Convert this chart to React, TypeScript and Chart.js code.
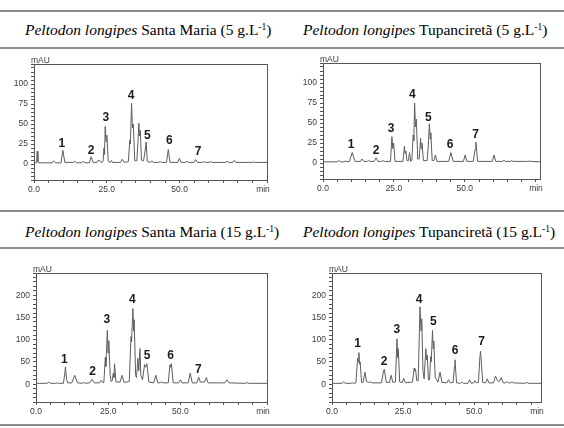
import React, { useEffect, useRef } from "react";
import { Chart, registerables } from "chart.js";

Chart.register(...registerables);

// ---- Chromatogram traces (retention time in min, absorbance in mAU) ----

// Santa Maria, 5 g/L
const smLowTimes = [
  0, 0.9, 1.1, 1.35, 1.6, 6.2, 6.7, 7.3, 9.3, 9.9, 10.6, 13.5, 14.0, 14.6, 16.4, 16.9, 17.5,
  19.0, 19.6, 20.3, 21.7, 22.3, 23.0, 23.7, 24.05, 24.2, 24.45, 24.75, 25.0, 25.5, 26.2, 26.6,
  27.0, 29.7, 30.3, 31.0, 32.4, 32.9, 33.1, 33.5, 33.8, 34.1, 34.6, 35.3, 35.7, 36.0, 36.2,
  36.5, 36.9, 37.6, 38.1, 38.5, 38.9, 40.0, 40.5, 41.0, 42.8, 43.3, 43.8, 45.5, 46.1, 46.7,
  49.4, 49.9, 50.5, 52.0, 52.5, 53.0, 54.9, 55.5, 56.1, 57.9, 58.4, 58.9, 60.1, 60.6, 61.1,
  65.8, 66.3, 66.8, 68.3, 68.8, 69.3, 74.9, 75.4, 75.9, 80,
];
const smLowValues = [
  1.5, 1.5, 16, 3, 1.5, 1.5, 4, 1.5, 1.5, 17, 2, 2, 3.5, 1.5, 1.5, 3.5, 1.5,
  1.5, 9, 2, 2, 5, 2, 3, 20, 12, 47, 28, 36, 3, 2, 4.5,
  2, 2, 6, 2, 3, 30, 25, 76, 45, 50, 4, 4, 28, 51, 35,
  42, 5, 4, 15, 27.5, 3, 2, 4, 2, 2, 3, 2, 2, 18, 2,
  2, 7, 2, 2, 3.5, 2, 2, 5.5, 2, 2, 3, 2, 2, 3, 2,
  2, 3.5, 2, 2, 4.5, 2, 2, 2.5, 2, 2,
];

// Tupanciretã, 5 g/L
const tpLowTimes = [
  0, 4.9, 5.6, 6.2, 7.4, 7.9, 8.4, 9.3, 10.3, 11.3, 13.2, 13.8, 14.5, 15.6, 16.1, 16.6,
  18.0, 18.7, 19.4, 20.6, 21.1, 21.6, 23.8, 24.3, 24.6, 24.9, 25.4, 28.2, 28.7, 28.95, 29.2,
  29.6, 30.1, 30.5, 30.9, 31.3, 31.8, 32.0, 32.3, 32.6, 32.9, 33.4, 33.9, 34.4, 34.6, 34.9,
  35.4, 36.7, 37.1, 37.5, 37.8, 38.0, 38.5, 39.1, 39.6, 40.2, 44.3, 45.1, 45.9, 49.5, 50.1,
  50.7, 53.0, 53.6, 53.9, 54.5, 59.7, 60.3, 60.9, 63.3, 63.8, 64.3, 66.0, 66.5, 67.0, 72.1,
  72.6, 73.1, 76.5,
];
const tpLowValues = [
  1.5, 1.5, 3, 1.5, 1.5, 2.5, 1.5, 2, 13, 2, 2, 5, 2, 2, 3, 2,
  2, 6.5, 2, 2, 3, 2, 2, 33, 18, 25, 2, 2, 21, 12, 15,
  3, 3, 13, 2, 3, 35, 28, 75, 45, 55, 5, 5, 31, 18, 25,
  3, 3, 20, 49, 30, 38, 3, 3, 10, 2, 2, 13, 2, 2, 10,
  2, 2, 17, 26, 2, 2, 10, 2, 2, 3.5, 2, 2, 3, 2, 2,
  2.5, 2, 1.5,
];

// Santa Maria, 15 g/L
const smHighTimes = [
  0, 3.8, 4.4, 5.0, 6.8, 7.3, 7.8, 9.5, 10.0, 10.2, 10.6, 11.0, 12.4, 13.4, 14.4, 16.0, 16.5,
  17.0, 18.6, 19.4, 20.2, 22.0, 22.6, 23.2, 23.5, 24.0, 24.2, 24.7, 24.95, 25.2, 25.7, 26.0,
  26.4, 26.8, 27.0, 27.2, 27.7, 29.1, 29.8, 30.5, 32.3, 32.9, 33.1, 33.55, 33.8, 34.0, 34.5,
  34.8, 35.3, 35.6, 36.0, 36.3, 36.9, 37.6, 38.0, 38.4, 39.1, 40.8, 41.5, 42.2, 43.0, 43.5,
  44.0, 45.8, 46.4, 46.6, 46.9, 47.5, 49.4, 50.0, 50.6, 52.7, 53.4, 54.1, 55.7, 56.3, 56.9,
  58.4, 59.0, 59.6, 65.4, 66.1, 66.8, 72.4, 73.0, 73.6, 80,
];
const smHighValues = [
  2, 2, 5, 2, 2, 3, 2, 2, 25, 39, 10, 3, 3, 20, 3, 2, 4,
  2, 3, 11, 3, 3, 9, 3, 4, 60, 40, 121, 70, 98, 20, 6,
  8, 25, 15, 46, 5, 5, 20, 4, 6, 107, 95, 170, 120, 145, 20,
  15, 58, 30, 80, 20, 10, 44, 38, 46, 5, 3, 20, 3, 3, 5,
  3, 3, 44, 38, 46, 3, 3, 10, 3, 3, 25, 3, 3, 16, 5,
  5, 15, 3, 3, 10, 3, 2, 3.5, 2, 2,
];

// Tupanciretã, 15 g/L
const tpHighTimes = [
  0, 3.5, 4.1, 4.7, 6.6, 7.1, 7.6, 8.4, 9.0, 9.2, 9.45, 9.7, 9.9, 10.4, 10.9, 11.6, 12.1,
  12.9, 13.5, 14.1, 17.4, 18.1, 18.4, 19.1, 20.2, 20.8, 21.4, 22.3, 22.85, 23.05, 23.3, 23.8,
  24.7, 25.2, 25.8, 28.3, 28.9, 29.1, 29.4, 29.8, 30.3, 30.95, 31.3, 31.55, 32.0, 32.4, 33.0,
  33.25, 33.5, 33.9, 34.3, 34.7, 34.9, 35.35, 35.6, 35.8, 36.3, 37.3, 38.0, 38.7, 40.4, 41.0,
  41.6, 42.6, 43.05, 43.25, 43.8, 45.2, 45.7, 46.2, 47.8, 48.4, 49.0, 49.8, 50.3, 50.8, 51.5,
  52.0, 52.25, 52.5, 53.0, 54.0, 54.6, 55.2, 56.8, 57.5, 58.2, 58.8, 59.5, 60.2, 61.0, 61.6,
  62.2, 62.8, 63.3, 63.8, 68.0, 68.6, 69.2, 73.5,
];
const tpHighValues = [
  2, 2, 5, 2, 2, 3, 2, 3, 58, 50, 71, 45, 50, 4, 4, 27, 6,
  4, 5, 3, 3, 30, 33, 4, 4, 20, 4, 5, 102, 60, 80, 5,
  4, 13, 3, 5, 36, 30, 33, 8, 8, 174, 120, 147, 30, 12, 80,
  55, 65, 10, 10, 62, 50, 121, 80, 97, 15, 5, 27, 4, 3, 10,
  3, 4, 40, 55, 3, 2, 5, 2, 2, 10, 2, 3, 8, 3, 4,
  60, 74, 50, 4, 3, 12, 3, 3, 18, 8, 6, 15, 3, 3, 6,
  3, 3, 5, 3, 2, 4, 2, 2,
];

// ---- Peak numbering ----
const peakNames = ["1", "2", "3", "4", "5", "6", "7"];
const smLowLabelTimes = [9.6, 19.6, 24.7, 33.3, 38.9, 46.5, 56.3];
const smLowLabelValues = [26, 17, 57.5, 85, 36, 29, 16];
const tpLowLabelTimes = [9.9, 18.7, 24.0, 31.5, 37.1, 44.8, 53.8];
const tpLowLabelValues = [22.5, 16, 42.5, 85, 57, 22.5, 35];
const smHighLabelTimes = [9.8, 19.6, 24.5, 33.4, 38.5, 46.6, 56.2];
const smHighLabelValues = [56, 29, 144, 189, 65, 65, 33.5];
const tpHighLabelTimes = [9.0, 18.3, 22.8, 30.6, 35.6, 43.3, 52.6];
const tpHighLabelValues = [91, 50, 123, 190, 140, 76, 95];

// ---- Axis labels ----
const xLabelValues = [0, 25, 50];
const yLabelsLow = [0, 25, 50, 75, 100];
const yLabelsHigh = [0, 50, 100, 150, 200];

// ---- Panel titles ----
const titleSpecies = "Peltodon longipes";
const titleSites = ["Santa Maria", "Tupanciretã", "Santa Maria", "Tupanciretã"];
const titleDoses = ["5", "5", "15", "15"];

const SANS = "'Liberation Sans', Arial, sans-serif";
const SERIF = "'Liberation Serif', 'Times New Roman', serif";
const AXIS_W = 30;
const AXIS_H = 22;
const PAD_L = 2;
const PAD_T = 12;
const PAD_R = 12;

type Area = { left: number; top: number; right: number; bottom: number };

const decor = {
  id: "decor",
  afterDraw(chart: any, _args: any, opts: any) {
    const { ctx, chartArea: a, scales } = chart;
    ctx.save();
    // frame around the plot area
    ctx.strokeStyle = "#555";
    ctx.lineWidth = 1;
    ctx.strokeRect(
      Math.round(a.left) + 0.5,
      Math.round(a.top) + 0.5,
      Math.round(a.right - a.left),
      Math.round(a.bottom - a.top)
    );
    // unit captions
    ctx.fillStyle = "#3a3a3a";
    ctx.font = `8.5px ${SANS}`;
    ctx.textAlign = "left";
    ctx.textBaseline = "bottom";
    ctx.fillText("mAU", a.left - 3, a.top + 1);
    ctx.textAlign = "center";
    ctx.textBaseline = "middle";
    ctx.fillText("min", a.right - 4, a.bottom + 10);
    // peak numbers
    ctx.fillStyle = "#1a1a1a";
    ctx.font = `bold 12px ${SANS}`;
    const names: string[] = opts.names || [];
    names.forEach((n, i) => {
      const px = scales.x.getPixelForValue(opts.times[i]);
      const py = scales.y.getPixelForValue(opts.values[i]);
      ctx.fillText(n, px, py);
    });
    ctx.restore();
  },
};

type PanelProps = {
  area: Area;
  times: number[];
  values: number[];
  labelTimes: number[];
  labelValues: number[];
  xMax: number;
  yMin: number;
  yMax: number;
  yStep: number;
  yLabels: number[];
};

function Panel(p: PanelProps) {
  const ref = useRef<HTMLCanvasElement>(null);
  const left = p.area.left - AXIS_W - PAD_L;
  const top = p.area.top - PAD_T;
  const width = p.area.right + PAD_R - left;
  const height = p.area.bottom + AXIS_H - top;

  useEffect(() => {
    const tickFont = { family: SANS, size: 8.5 };
    const chart = new Chart(ref.current as HTMLCanvasElement, {
      type: "line",
      data: {
        datasets: [
          {
            data: p.times.map((t, i) => ({ x: t, y: p.values[i] })),
            borderColor: "#5e5e5e",
            borderWidth: 1,
            pointRadius: 0,
            tension: 0,
            fill: false,
          },
        ],
      },
      options: {
        animation: false,
        responsive: false,
        events: [],
        layout: {
          autoPadding: false,
          padding: { left: PAD_L, top: PAD_T, right: PAD_R, bottom: 0 },
        },
        plugins: {
          legend: { display: false },
          tooltip: { enabled: false },
          decor: { names: peakNames, times: p.labelTimes, values: p.labelValues },
        } as any,
        scales: {
          x: {
            type: "linear",
            min: 0,
            max: p.xMax,
            afterFit: (s: any) => {
              s.height = AXIS_H;
            },
            border: { display: false },
            grid: { drawOnChartArea: false, drawTicks: true, tickLength: 3, tickColor: "#555" },
            ticks: {
              stepSize: 5,
              autoSkip: false,
              includeBounds: false,
              maxRotation: 0,
              padding: 2,
              color: "#3a3a3a",
              font: tickFont,
              callback: (v: any) => (xLabelValues.includes(Number(v)) ? Number(v).toFixed(1) : ""),
            },
          },
          y: {
            type: "linear",
            min: p.yMin,
            max: p.yMax,
            afterFit: (s: any) => {
              s.width = AXIS_W;
            },
            border: { display: false },
            grid: { drawOnChartArea: false, drawTicks: true, tickLength: 3, tickColor: "#555" },
            ticks: {
              stepSize: p.yStep,
              autoSkip: false,
              includeBounds: false,
              padding: 3,
              color: "#3a3a3a",
              font: tickFont,
              callback: (v: any) => (p.yLabels.includes(Number(v)) ? String(v) : ""),
            },
          },
        },
      },
      plugins: [decor],
    });
    return () => chart.destroy();
  }, []);

  return (
    <canvas
      ref={ref}
      width={width}
      height={height}
      style={{ position: "absolute", left, top, width, height }}
    />
  );
}

function Title({ i, left, baseline }: { i: number; left: number; baseline: number }) {
  return (
    <div
      style={{
        position: "absolute",
        left,
        top: baseline - 13,
        fontFamily: SERIF,
        fontSize: 15.5,
        lineHeight: "15.5px",
        color: "#000",
        whiteSpace: "nowrap",
      }}
    >
      <i>{titleSpecies}</i> {titleSites[i]} ({titleDoses[i]} g.L
      <span style={{ fontSize: "0.62em", position: "relative", top: "-0.5em" }}>-1</span>)
    </div>
  );
}

function Rule({ top }: { top: number }) {
  return (
    <div
      style={{ position: "absolute", left: 0, top, width: 564, height: 2, background: "#8c8c8c" }}
    />
  );
}

export default function App() {
  return (
    <div
      style={{
        position: "absolute",
        left: 0,
        top: 0,
        width: 564,
        height: 428,
        background: "#fff",
        overflow: "hidden",
      }}
    >
      <Rule top={10} />
      <Rule top={47} />
      <Rule top={210} />
      <Rule top={247} />
      <Rule top={424} />
      <Title i={0} left={25} baseline={35} />
      <Title i={1} left={303} baseline={35} />
      <Title i={2} left={25} baseline={237} />
      <Title i={3} left={303} baseline={237} />
      <Panel
        area={{ left: 34, top: 64, right: 267, bottom: 180 }}
        times={smLowTimes}
        values={smLowValues}
        labelTimes={smLowLabelTimes}
        labelValues={smLowLabelValues}
        xMax={80}
        yMin={-20}
        yMax={125}
        yStep={5}
        yLabels={yLabelsLow}
      />
      <Panel
        area={{ left: 323, top: 63, right: 540, bottom: 179 }}
        times={tpLowTimes}
        values={tpLowValues}
        labelTimes={tpLowLabelTimes}
        labelValues={tpLowLabelValues}
        xMax={76.5}
        yMin={-20}
        yMax={125}
        yStep={5}
        yLabels={yLabelsLow}
      />
      <Panel
        area={{ left: 36, top: 273, right: 267, bottom: 402 }}
        times={smHighTimes}
        values={smHighValues}
        labelTimes={smHighLabelTimes}
        labelValues={smHighLabelValues}
        xMax={80}
        yMin={-40}
        yMax={250}
        yStep={10}
        yLabels={yLabelsHigh}
      />
      <Panel
        area={{ left: 332, top: 273, right: 541, bottom: 402 }}
        times={tpHighTimes}
        values={tpHighValues}
        labelTimes={tpHighLabelTimes}
        labelValues={tpHighLabelValues}
        xMax={73.5}
        yMin={-40}
        yMax={250}
        yStep={10}
        yLabels={yLabelsHigh}
      />
    </div>
  );
}
